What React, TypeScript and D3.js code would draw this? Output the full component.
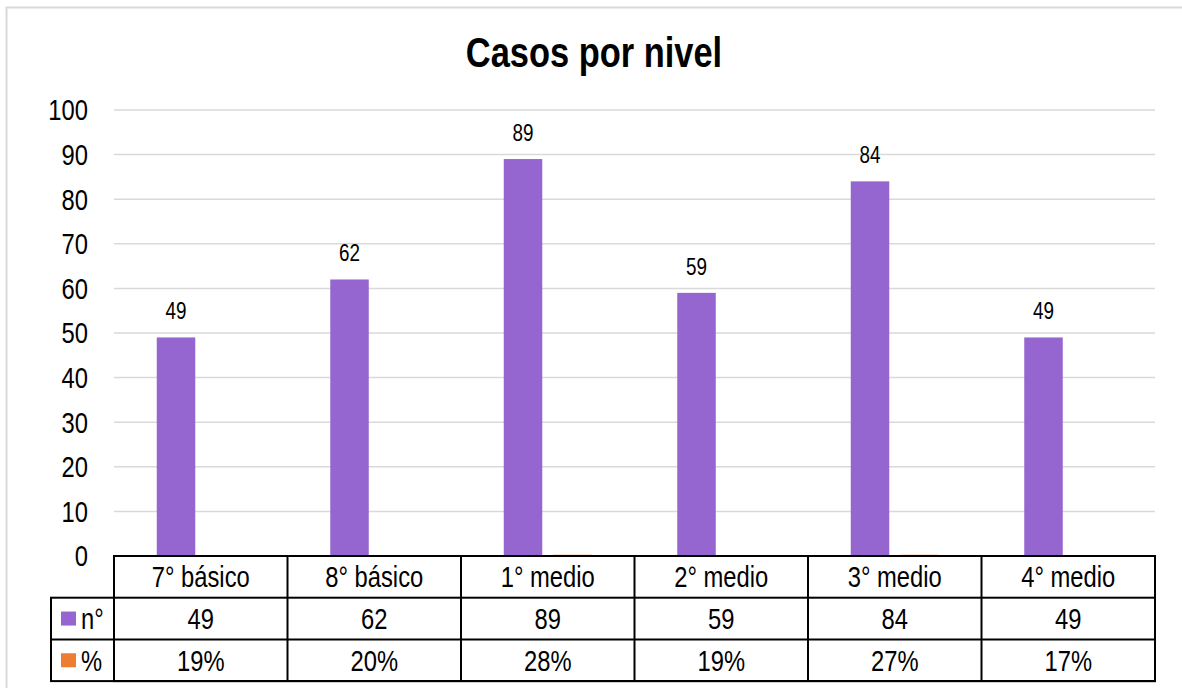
import * as d3 from "d3";

const categories = ["7° básico", "8° básico", "1° medio", "2° medio", "3° medio", "4° medio"];
const casos = [49, 62, 89, 59, 84, 49];
const porcentaje = [0.19, 0.2, 0.28, 0.19, 0.27, 0.17];
const yTicks = [0, 10, 20, 30, 40, 50, 60, 70, 80, 90, 100];
const seriesNames = ["n°", "%"];
const seriesColors = ["#9565D0", "#ED7D31"];

const width = 1182;
const height = 688;
const font = "'Liberation Sans', Arial, sans-serif";
const narrow = 0.82; // no Arial Narrow installed, squeeze Liberation Sans instead

type NTextProps = {
  x: number;
  y: number;
  size: number;
  anchor?: "start" | "middle" | "end";
  bold?: boolean;
  dy?: string;
  children: React.ReactNode;
};

function NText({ x, y, size, anchor = "start", bold = false, dy, children }: NTextProps) {
  return (
    <text
      transform={`translate(${x},${y}) scale(${narrow},1)`}
      dy={dy}
      textAnchor={anchor}
      fontSize={size}
      fontWeight={bold ? "bold" : "normal"}
      fill="#000"
    >
      {children}
    </text>
  );
}

export default function App() {
  const plot = { left: 114, right: 1155, top: 110, bottom: 556 };
  const rowH = 41.7;
  const legendLeft = 51;

  const x0 = d3.scaleBand<string>().domain(categories).range([plot.left, plot.right]);
  const x1 = d3
    .scaleBand<string>()
    .domain(seriesNames)
    .range([0, x0.bandwidth()])
    .paddingInner(0.222)
    .paddingOuter(0.864);
  const y = d3.scaleLinear().domain([0, 100]).range([plot.bottom, plot.top]);

  const series = [casos, porcentaje];
  const rows = [casos.map(String), porcentaje.map((p) => `${Math.round(p * 100)}%`)];
  const lw = 2;

  return (
    <svg
      width={width}
      height={height}
      style={{ position: "absolute", left: 0, top: 0, background: "#fff" }}
      fontFamily={font}
    >
      <rect x={6.5} y={7.5} width={1300} height={800} fill="#fff" stroke="#d9d9d9" strokeWidth={2} />

      <NText x={594} y={67} size={42} anchor="middle" bold>
        Casos por nivel
      </NText>

      {/* gridlines + y tick labels */}
      {yTicks.map((t) => (
        <g key={t}>
          <line x1={plot.left} x2={plot.right} y1={y(t)} y2={y(t)} stroke="#d9d9d9" strokeWidth={1.5} />
          <NText x={88} y={y(t)} dy="0.36em" anchor="end" size={29}>
            {t}
          </NText>
        </g>
      ))}

      {/* bars */}
      {series.map((vals, si) =>
        vals.map((v, i) => (
          <rect
            key={`${si}-${i}`}
            x={(x0(categories[i]) as number) + (x1(seriesNames[si]) as number)}
            y={y(v)}
            width={x1.bandwidth()}
            height={plot.bottom - y(v)}
            fill={seriesColors[si]}
          />
        ))
      )}

      {/* data labels */}
      {casos.map((v, i) => (
        <NText
          key={i}
          x={(x0(categories[i]) as number) + (x1(seriesNames[0]) as number) + x1.bandwidth() / 2}
          y={y(v) - 18}
          anchor="middle"
          size={23}
        >
          {v}
        </NText>
      ))}

      {/* data table */}
      <g stroke="#000" strokeWidth={lw} fill="none">
        <rect x={plot.left} y={plot.bottom} width={plot.right - plot.left} height={rowH * 3} />
        <rect x={legendLeft} y={plot.bottom + rowH} width={plot.right - legendLeft} height={rowH * 2} />
        <line x1={legendLeft} x2={plot.right} y1={plot.bottom + rowH * 2} y2={plot.bottom + rowH * 2} />
        {categories.map((c) => (
          <line
            key={c}
            x1={(x0(c) as number) + x0.bandwidth()}
            x2={(x0(c) as number) + x0.bandwidth()}
            y1={plot.bottom}
            y2={plot.bottom + rowH * 3}
          />
        ))}
      </g>

      {categories.map((c) => (
        <NText
          key={c}
          x={(x0(c) as number) + x0.bandwidth() / 2}
          y={plot.bottom + rowH / 2}
          dy="0.36em"
          anchor="middle"
          size={29}
        >
          {c}
        </NText>
      ))}

      {rows.map((row, ri) => (
        <g key={ri}>
          <rect
            x={61}
            y={plot.bottom + rowH * (ri + 1) + rowH / 2 - 7}
            width={15}
            height={14}
            fill={seriesColors[ri]}
          />
          <NText x={81} y={plot.bottom + rowH * (ri + 1.5)} dy="0.36em" size={29}>
            {seriesNames[ri]}
          </NText>
          {row.map((s, i) => (
            <NText
              key={i}
              x={(x0(categories[i]) as number) + x0.bandwidth() / 2}
              y={plot.bottom + rowH * (ri + 1.5)}
              dy="0.36em"
              anchor="middle"
              size={29}
            >
              {s}
            </NText>
          ))}
        </g>
      ))}
    </svg>
  );
}
